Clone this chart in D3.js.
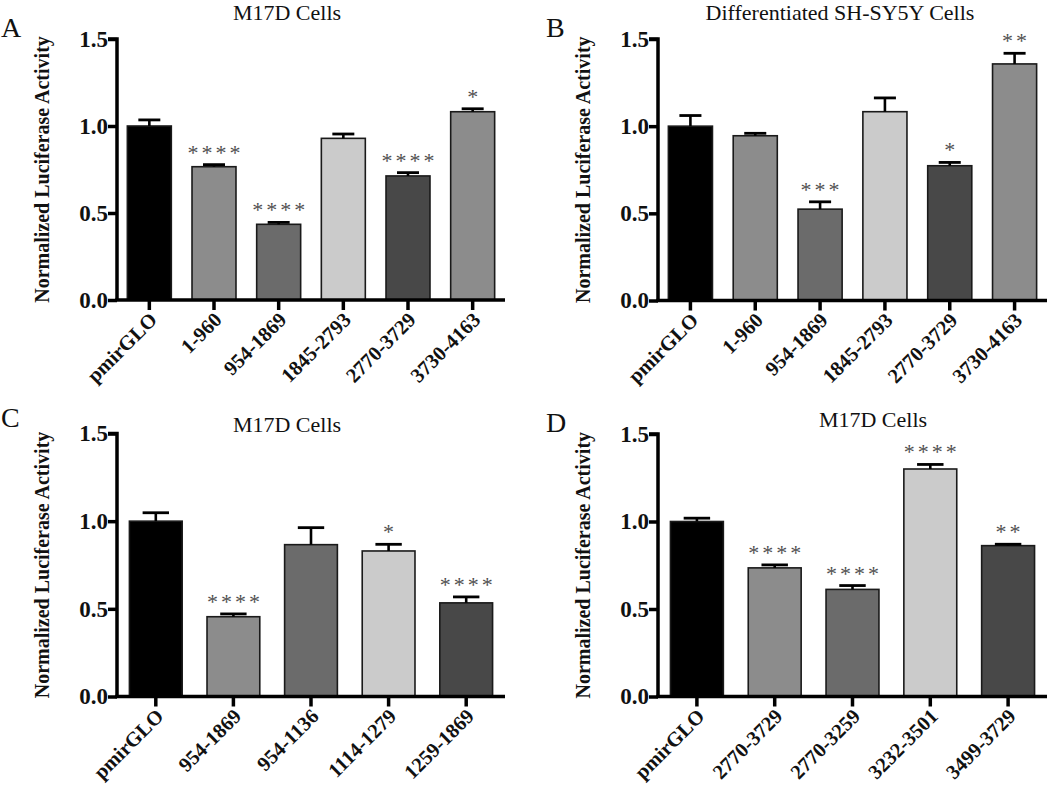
<!DOCTYPE html>
<html>
<head>
<meta charset="utf-8">
<script src="https://cdn.jsdelivr.net/npm/d3@7"></script>
<style>
  body { margin: 0; background: #fff; }
  svg { display: block; }
</style>
</head>
<body>
<script>
// ---------- Data ----------
const catsA = ["pmirGLO", "1-960", "954-1869", "1845-2793", "2770-3729", "3730-4163"];
const valsA = [1.0, 0.766, 0.435, 0.929, 0.713, 1.082];
const errA  = [0.035, 0.012, 0.011, 0.025, 0.019, 0.017];
const sigA  = ["", "****", "****", "", "****", "*"];

const catsB = ["pmirGLO", "1-960", "954-1869", "1845-2793", "2770-3729", "3730-4163"];
const valsB = [1.0, 0.945, 0.524, 1.083, 0.773, 1.357];
const errB  = [0.061, 0.014, 0.042, 0.079, 0.019, 0.061];
const sigB  = ["", "", "***", "", "*", "**"];

const catsC = ["pmirGLO", "954-1869", "954-1136", "1114-1279", "1259-1869"];
const valsC = [1.0, 0.455, 0.866, 0.830, 0.534];
const errC  = [0.048, 0.016, 0.097, 0.038, 0.034];
const sigC  = ["", "****", "", "*", "****"];

const catsD = ["pmirGLO", "2770-3729", "2770-3259", "3232-3501", "3499-3729"];
const valsD = [1.0, 0.735, 0.612, 1.30, 0.862];
const errD  = [0.019, 0.017, 0.022, 0.026, 0.008];
const sigD  = ["", "****", "****", "****", "**"];

const yTicks = [0.0, 0.5, 1.0, 1.5];
const titles = ["M17D Cells", "Differentiated SH-SY5Y Cells", "M17D Cells", "M17D Cells"];
const letters = ["A", "B", "C", "D"];
const yLabel = "Normalized Luciferase Activity";

// ---------- Styles ----------
const fills6 = ["#000000", "#8c8c8c", "#6b6b6b", "#cbcbcb", "#484848", "#8c8c8c"];
const fills5 = ["#000000", "#8c8c8c", "#6b6b6b", "#cbcbcb", "#484848"];
const serif = "'Liberation Serif', 'Times New Roman', serif";

const panels = [
  { cats: catsA, vals: valsA, errs: errA, sigs: sigA, fills: fills6, title: titles[0], letter: letters[0],
    x0: 117, x1: 505, yTop: 39, yBot: 300, titleX: 287, titleY: 20, letterX: 1, letterY: 37, labelX: 42 },
  { cats: catsB, vals: valsB, errs: errB, sigs: sigB, fills: fills6, title: titles[1], letter: letters[1],
    x0: 658, x1: 1047, yTop: 39, yBot: 300.5, titleX: 840, titleY: 20, letterX: 546, letterY: 37, labelX: 583 },
  { cats: catsC, vals: valsC, errs: errC, sigs: sigC, fills: fills5, title: titles[2], letter: letters[2],
    x0: 117, x1: 505, yTop: 433.5, yBot: 696.5, titleX: 287, titleY: 432, letterX: 1, letterY: 427, labelX: 42 },
  { cats: catsD, vals: valsD, errs: errD, sigs: sigD, fills: fills5, title: titles[3], letter: letters[3],
    x0: 658, x1: 1047, yTop: 434, yBot: 696.5, titleX: 873, titleY: 427, letterX: 546, letterY: 432, labelX: 583 }
];

const svg = d3.select("body").append("svg")
  .attr("width", 1050).attr("height", 787)
  .style("font-family", serif);

panels.forEach(p => {
  const g = svg.append("g");
  const x = d3.scaleBand().domain(p.cats).range([p.x0, p.x1]).paddingInner(0.32).paddingOuter(0.16);
  const y = d3.scaleLinear().domain([0, 1.5]).range([p.yBot, p.yTop]);

  // title & letter
  g.append("text").attr("x", p.titleX).attr("y", p.titleY).attr("text-anchor", "middle")
    .attr("font-size", 22).attr("fill", "#111").text(p.title);
  g.append("text").attr("x", p.letterX).attr("y", p.letterY)
    .attr("font-size", 28).attr("fill", "#111").text(p.letter);

  // y label
  g.append("text")
    .attr("transform", `translate(${p.labelX},${(p.yTop + p.yBot) / 2}) rotate(-90)`)
    .attr("text-anchor", "middle").attr("dy", "0.35em")
    .attr("font-size", 20).attr("font-weight", "bold").attr("fill", "#111")
    .text(yLabel);

  // bars
  g.selectAll("rect.bar").data(p.cats).enter().append("rect")
    .attr("class", "bar")
    .attr("x", d => x(d))
    .attr("width", x.bandwidth())
    .attr("y", (d, i) => y(p.vals[i]))
    .attr("height", (d, i) => y(0) - y(p.vals[i]))
    .attr("fill", (d, i) => p.fills[i])
    .attr("stroke", "#1a1a1a").attr("stroke-width", 1.6);

  // error bars (upper only)
  const capW = x.bandwidth() / 2;
  g.selectAll("line.err").data(p.cats).enter().append("line")
    .attr("x1", d => x(d) + x.bandwidth() / 2).attr("x2", d => x(d) + x.bandwidth() / 2)
    .attr("y1", (d, i) => y(p.vals[i]))
    .attr("y2", (d, i) => y(p.vals[i] + p.errs[i]))
    .attr("stroke", "#000").attr("stroke-width", 2.6);
  g.selectAll("line.cap").data(p.cats).enter().append("line")
    .attr("x1", d => x(d) + x.bandwidth() / 2 - capW / 2)
    .attr("x2", d => x(d) + x.bandwidth() / 2 + capW / 2)
    .attr("y1", (d, i) => y(p.vals[i] + p.errs[i]))
    .attr("y2", (d, i) => y(p.vals[i] + p.errs[i]))
    .attr("stroke", "#000").attr("stroke-width", 2.8);

  // significance stars
  g.selectAll("text.sig").data(p.cats).enter().append("text")
    .attr("x", d => x(d) + x.bandwidth() / 2 + 1.5)
    .attr("y", (d, i) => y(p.vals[i] + p.errs[i]) - 5)
    .attr("text-anchor", "middle")
    .attr("font-size", 22).attr("fill", "#505050").attr("letter-spacing", 3)
    .text((d, i) => p.sigs[i]);

  // y axis
  const ya = g.append("g").attr("transform", `translate(${p.x0},0)`)
    .call(d3.axisLeft(y).tickValues(yTicks).tickFormat(d3.format(".1f")).tickSize(9).tickPadding(0));
  ya.select(".domain").attr("stroke", "#000").attr("stroke-width", 3.5)
    .attr("d", `M-9,${p.yTop}H0V${p.yBot}`);
  ya.selectAll(".tick line").attr("stroke", "#000").attr("stroke-width", 3.5);
  ya.selectAll(".tick text").attr("font-size", 23).attr("font-weight", "bold")
    .attr("font-family", serif).attr("fill", "#111");

  // x axis
  const xa = g.append("g").attr("transform", `translate(0,${p.yBot})`)
    .call(d3.axisBottom(x).tickSize(10).tickSizeOuter(0));
  xa.select(".domain").attr("stroke", "#000").attr("stroke-width", 3.5)
    .attr("d", `M${p.x0 - 1.75},0H${p.x1}`);
  xa.selectAll(".tick line").attr("stroke", "#000").attr("stroke-width", 3.5);
  xa.selectAll(".tick text")
    .attr("font-size", 20.5).attr("font-weight", "bold").attr("font-family", serif).attr("fill", "#111")
    .attr("text-anchor", "end").attr("x", 0).attr("y", 0).attr("dy", 0)
    .attr("transform", "translate(9,21) rotate(-45)");
});
</script>
</body>
</html>
